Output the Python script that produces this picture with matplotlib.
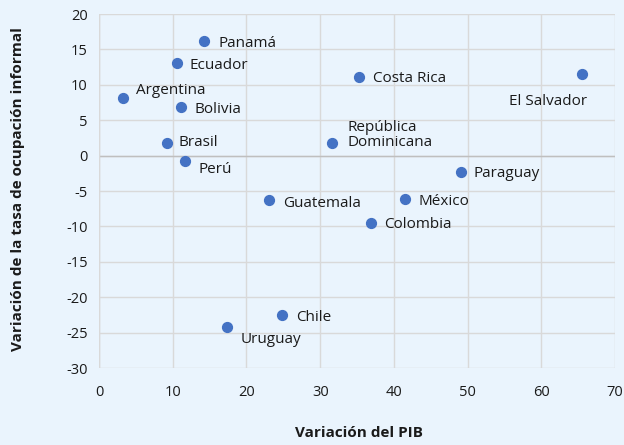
import matplotlib
matplotlib.use("Agg")
import matplotlib.pyplot as plt

countries = ["Panamá", "Ecuador", "Argentina", "Bolivia", "Brasil", "Perú", "Guatemala",
             "Costa Rica", "El Salvador", "República\nDominicana", "Paraguay", "México",
             "Colombia", "Chile", "Uruguay"]
pib = [14.3, 10.6, 3.3, 11.1, 9.2, 11.7, 23.1, 35.3, 65.5, 31.6, 49.1, 41.5, 36.9, 24.8, 17.4]
informal = [16.2, 13.1, 8.1, 6.9, 1.8, -0.8, -6.3, 11.1, 11.5, 1.8, -2.3, -6.1, -9.5, -22.5, -24.2]

# label offsets in pixels (dx, dy) and alignment
offsets = {
    "Panamá": (14, -3, "left"),
    "Ecuador": (12, -3, "left"),
    "Argentina": (13, 8, "left"),
    "Bolivia": (14, -3, "left"),
    "Brasil": (12, 0, "left"),
    "Perú": (13, -8, "left"),
    "Guatemala": (14, -3, "left"),
    "Costa Rica": (14, -1, "left"),
    "El Salvador": (5, -27, "right"),
    "República\nDominicana": (16, 8, "left"),
    "Paraguay": (13, -2, "left"),
    "México": (14, -3, "left"),
    "Colombia": (13, -2, "left"),
    "Chile": (14, -3, "left"),
    "Uruguay": (13, -13, "left"),
}

plt.rcParams['font.family'] = ['Open Sans', 'DejaVu Sans']
plt.rcParams['axes.unicode_minus'] = False
bg = "#EAF4FD"
fig = plt.figure(figsize=(6.24, 4.45), dpi=100, facecolor=bg)
ax = fig.add_axes([0.1587, 0.173, 0.827, 0.7955], facecolor=bg)

ax.set_xlim(0, 70)
ax.set_ylim(-30, 20)
ax.set_xticks(range(0, 71, 10))
ax.set_yticks(range(-30, 21, 5))
ax.grid(True, color="#D9D9D9", linewidth=1.0)
ax.set_axisbelow(True)
for s in ax.spines.values():
    s.set_visible(False)
ax.axhline(0, color="#BFBFBF", linewidth=1.0, zorder=1)
ax.axvline(0, color="#D9D9D9", linewidth=1.0, zorder=1)
ax.tick_params(length=0, labelsize=10.5, colors="#1a1a1a", pad=8)
ax.tick_params(axis='x', pad=12)

ax.scatter(pib, informal, s=50, color="#4472C4", zorder=3)
for c, x, y in zip(countries, pib, informal):
    dx, dy, ha = offsets[c]
    ax.annotate(c, (x, y), xytext=(dx, dy), textcoords="offset pixels",
                ha=ha, va="center", fontsize=11, color="#1a1a1a", linespacing=1.0)

fig.text(0.575, 0.027, "Variación del PIB", ha="center", va="center",
         fontsize=11, fontweight="bold", color="#1a1a1a")
fig.text(0.029, 0.575, "Variación de la tasa de ocupación informal", ha="center",
         va="center", rotation=90, fontsize=11, fontweight="bold", color="#1a1a1a")

fig.savefig("out.png", dpi=100, facecolor=bg)
